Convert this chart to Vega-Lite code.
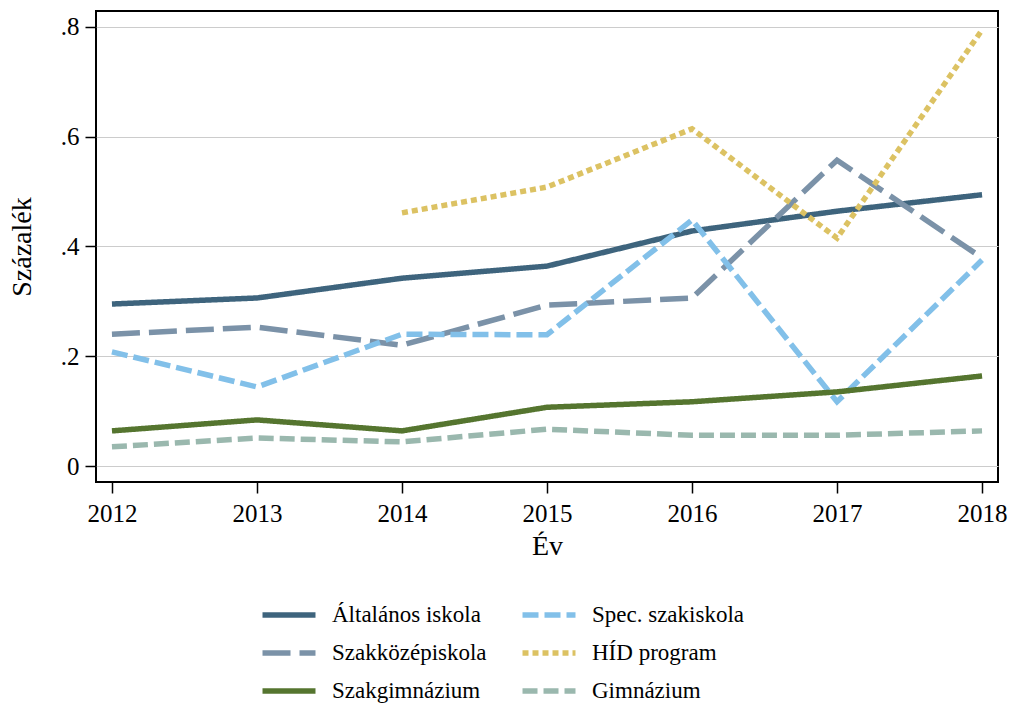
{
  "$schema": "https://vega.github.io/schema/vega-lite/v6.json",
  "autosize": {"type": "none"},
  "padding": {"left": 96, "top": 11, "right": 16, "bottom": 224},
  "width": 902,
  "height": 471,
  "background": "white",
  "config": {
    "font": "Liberation Serif",
    "view": {"stroke": "black", "strokeWidth": 2},
    "axis": {
      "labelFont": "Liberation Serif",
      "titleFont": "Liberation Serif",
      "labelColor": "black",
      "titleColor": "black",
      "tickColor": "black",
      "tickWidth": 1.5,
      "tickSize": 11,
      "domain": false,
      "labelFontSize": 25,
      "titleFontSize": 28,
      "titleFontWeight": "normal"
    },
    "legend": {
      "orient": "none",
      "legendX": 164,
      "legendY": 588,
      "columns": 2,
      "symbolType": "M-2,0H2",
      "symbolStrokeWidth": 5.5,
      "symbolSize": 702,
      "symbolOffset": 13,
      "labelFont": "Liberation Serif",
      "labelFontSize": 23,
      "labelColor": "black",
      "labelOffset": 27,
      "columnPadding": 24,
      "rowPadding": 10,
      "labelLimit": 400
    }
  },
  "data": {
    "values": [
      {"year": 2012, "series": "Általános iskola", "value": 0.295},
      {"year": 2013, "series": "Általános iskola", "value": 0.306},
      {"year": 2014, "series": "Általános iskola", "value": 0.342},
      {"year": 2015, "series": "Általános iskola", "value": 0.364},
      {"year": 2016, "series": "Általános iskola", "value": 0.428},
      {"year": 2017, "series": "Általános iskola", "value": 0.464},
      {"year": 2018, "series": "Általános iskola", "value": 0.494},
      {"year": 2012, "series": "Szakközépiskola", "value": 0.240},
      {"year": 2013, "series": "Szakközépiskola", "value": 0.253},
      {"year": 2014, "series": "Szakközépiskola", "value": 0.220},
      {"year": 2015, "series": "Szakközépiskola", "value": 0.293},
      {"year": 2016, "series": "Szakközépiskola", "value": 0.306},
      {"year": 2017, "series": "Szakközépiskola", "value": 0.557},
      {"year": 2018, "series": "Szakközépiskola", "value": 0.379},
      {"year": 2012, "series": "Spec. szakiskola", "value": 0.208},
      {"year": 2013, "series": "Spec. szakiskola", "value": 0.144},
      {"year": 2014, "series": "Spec. szakiskola", "value": 0.240},
      {"year": 2015, "series": "Spec. szakiskola", "value": 0.239},
      {"year": 2016, "series": "Spec. szakiskola", "value": 0.448},
      {"year": 2017, "series": "Spec. szakiskola", "value": 0.117},
      {"year": 2018, "series": "Spec. szakiskola", "value": 0.375},
      {"year": 2014, "series": "HÍD program", "value": 0.461},
      {"year": 2015, "series": "HÍD program", "value": 0.508},
      {"year": 2016, "series": "HÍD program", "value": 0.614},
      {"year": 2017, "series": "HÍD program", "value": 0.415},
      {"year": 2018, "series": "HÍD program", "value": 0.794},
      {"year": 2012, "series": "Szakgimnázium", "value": 0.064},
      {"year": 2013, "series": "Szakgimnázium", "value": 0.084},
      {"year": 2014, "series": "Szakgimnázium", "value": 0.064},
      {"year": 2015, "series": "Szakgimnázium", "value": 0.107},
      {"year": 2016, "series": "Szakgimnázium", "value": 0.117},
      {"year": 2017, "series": "Szakgimnázium", "value": 0.135},
      {"year": 2018, "series": "Szakgimnázium", "value": 0.164},
      {"year": 2012, "series": "Gimnázium", "value": 0.035},
      {"year": 2013, "series": "Gimnázium", "value": 0.051},
      {"year": 2014, "series": "Gimnázium", "value": 0.044},
      {"year": 2015, "series": "Gimnázium", "value": 0.067},
      {"year": 2016, "series": "Gimnázium", "value": 0.056},
      {"year": 2017, "series": "Gimnázium", "value": 0.056},
      {"year": 2018, "series": "Gimnázium", "value": 0.064}
    ]
  },
  "mark": {"type": "line", "strokeWidth": 5.5, "strokeCap": "butt", "strokeJoin": "miter", "clip": true},
  "encoding": {
    "x": {
      "field": "year",
      "type": "quantitative",
      "scale": {"domain": [2011.89, 2018.11], "nice": false, "zero": false},
      "axis": {"values": [2012, 2013, 2014, 2015, 2016, 2017, 2018], "format": "d", "grid": false, "title": "Év", "labelPadding": 8, "titlePadding": 6}
    },
    "y": {
      "field": "value",
      "type": "quantitative",
      "scale": {"domain": [-0.0291, 0.8286], "nice": false, "zero": false},
      "axis": {
        "values": [0, 0.2, 0.4, 0.6, 0.8],
        "labelExpr": "datum.value == 0 ? '0' : replace(format(datum.value, '.1f'), '0.', '.')",
        "grid": true,
        "gridColor": "#cccccc",
        "gridWidth": 1,
        "title": "Százalék",
        "labelPadding": 6,
        "titlePadding": 24
      }
    },
    "color": {
      "field": "series",
      "type": "nominal",
      "scale": {
        "domain": ["Általános iskola", "Szakközépiskola", "Szakgimnázium", "Spec. szakiskola", "HÍD program", "Gimnázium"],
        "range": ["#3E647D", "#7B92A8", "#55752F", "#82C0E9", "#DCC263", "#9AB8AE"]
      },
      "legend": {"title": null}
    },
    "strokeDash": {
      "field": "series",
      "type": "nominal",
      "scale": {
        "domain": ["Általános iskola", "Szakközépiskola", "Szakgimnázium", "Spec. szakiskola", "HÍD program", "Gimnázium"],
        "range": [[1, 0], [28, 9], [1, 0], [16, 6], [6, 4], [15, 6]]
      },
      "legend": {"title": null}
    }
  }
}
